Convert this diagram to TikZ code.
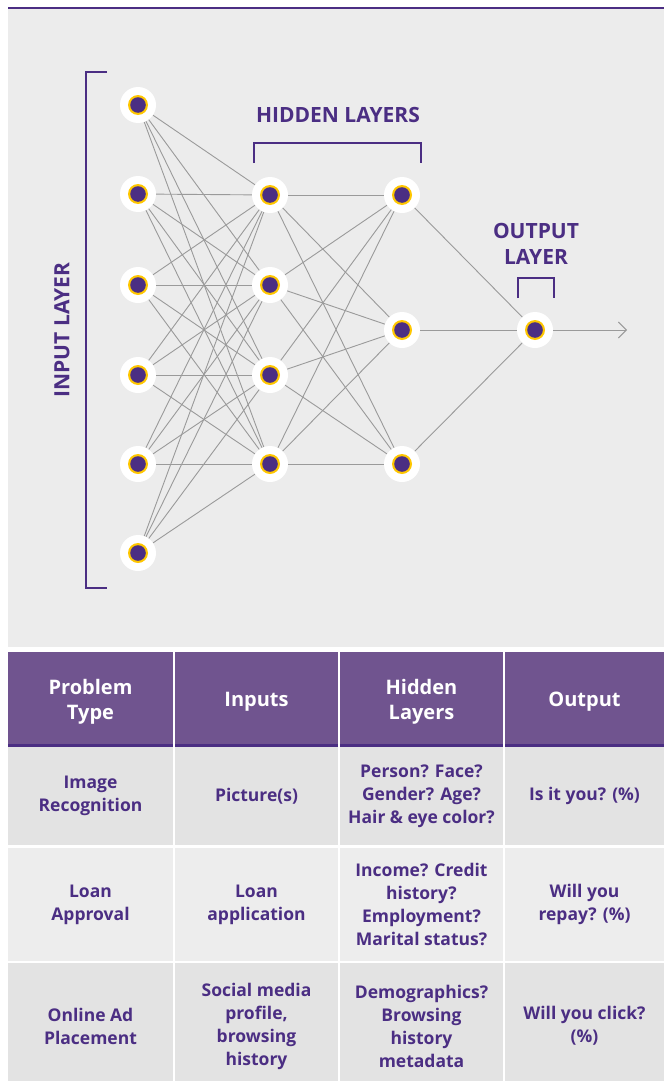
\documentclass[tikz,border=0pt]{standalone}
\usepackage{fontspec}
\setmainfont{Open Sans}
\usetikzlibrary{arrows,arrows.meta}
\definecolor{uwpurple}{HTML}{4B2E83}
\definecolor{headpurple}{HTML}{70548F}
\definecolor{uwgold}{HTML}{FFC700}
\definecolor{panelgray}{HTML}{ECECEC}
\definecolor{rowdark}{HTML}{E3E3E3}
\definecolor{rowlight}{HTML}{EDEDED}
\definecolor{wiregray}{HTML}{9A9A9A}

\begin{document}
\begin{tikzpicture}[x=1pt,y=-1pt,>={Straight Barb[length=8pt,width=16pt]},
  neuron/.style={circle,fill=white,minimum size=36pt,inner sep=0pt,
    path picture={\fill[uwgold] (path picture bounding box.center) circle (10pt);
      \fill[uwpurple] (path picture bounding box.center) circle (7.8pt);}},
  wire/.style={draw=wiregray,line width=0.9pt},
  bracket/.style={draw=uwpurple,line width=1.5pt},
  layerlabel/.style={text=uwpurple,font=\fontsize{21}{26}\selectfont\bfseries,align=center,inner sep=0pt},
  cell/.style={inner sep=0pt,outer sep=0pt,align=center,text=uwpurple,
    font=\fontsize{17.5}{23}\selectfont\bfseries},
  headcell/.style={cell,fill=headpurple,text=white,font=\fontsize{20}{25}\selectfont\bfseries},
  w1/.style={minimum width=165pt},
  w2/.style={minimum width=163pt},
  w3/.style={minimum width=163pt},
  w4/.style={minimum width=159pt}]
\useasboundingbox (0,0) rectangle (664,1081);

% background panel and top rule
\fill[panelgray] (8,9) rectangle (664,647);
\fill[uwpurple] (8,7.3) rectangle (664,9.3);

% define the neurons
  \node[neuron] (i1) at (138,105) {};
  \node[neuron] (i2) at (138,194) {};
  \node[neuron] (i3) at (138,285) {};
  \node[neuron] (i4) at (138,375) {};
  \node[neuron] (i5) at (138,464) {};
  \node[neuron] (i6) at (138,553) {};

  \node[neuron] (h1) at (270,195) {};
  \node[neuron] (h2) at (270,285) {};
  \node[neuron] (h3) at (270,375) {};
  \node[neuron] (h4) at (270,464) {};

  \node[neuron] (g1) at (402,195) {};
  \node[neuron] (g2) at (402,330) {};
  \node[neuron] (g3) at (402,464) {};

  \node[neuron] (o1) at (535,330) {};
  \coordinate (out) at (627,330);

% define the links
  \foreach \a in {1,...,6}
    \foreach \b in {1,...,4}
      \path[wire] (i\a) -- (h\b);
  \foreach \a in {1,...,4}
    \foreach \b in {1,...,3}
      \path[wire] (h\a) -- (g\b);
  \foreach \a in {1,...,3}
    \path[wire] (g\a) -- (o1);
  \path[wire,->] (o1) -- (out);

% layer brackets and labels
  \draw[bracket] (107,72) -- (86,72) -- (86,588) -- (107,588);
  \draw[bracket] (254,163) -- (254,143) -- (421,143) -- (421,163);
  \draw[bracket] (518,298) -- (518,278) -- (554,278) -- (554,298);
  \node[layerlabel,rotate=90] (inlabel) at (62,330) {INPUT LAYER};
  \node[layerlabel] (hidlabel) at (338,115) {HIDDEN LAYERS};
  \node[layerlabel] (outlabel) at (536,244) {OUTPUT\\LAYER};

% table header
  \node[headcell,w1,minimum height=99pt] (th1) at (90.5,701.5) {Problem\\Type};
  \node[headcell,w2,minimum height=99pt] (th2) at (256.5,701.5) {Inputs};
  \node[headcell,w3,minimum height=99pt] (th3) at (421.5,701.5) {Hidden\\Layers};
  \node[headcell,w4,minimum height=99pt] (th4) at (584.5,701.5) {Output};
  \foreach \c in {th1,th2,th3,th4}
    \fill[uwpurple] ([yshift=7pt]\c.south west) rectangle ([yshift=4pt]\c.south east);

% table rows
  \node[cell,w1,fill=rowdark,minimum height=98pt] (r1c1) at (90.5,796) {Image\\Recognition};
  \node[cell,w2,fill=rowdark,minimum height=98pt] (r1c2) at (256.5,796) {Picture(s)};
  \node[cell,w3,fill=rowdark,minimum height=98pt] (r1c3) at (421.5,796) {Person? Face?\\Gender? Age?\\Hair \& eye color?};
  \node[cell,w4,fill=rowdark,minimum height=98pt] (r1c4) at (584.5,796) {Is it you? (\%)};

  \node[cell,w1,fill=rowlight,minimum height=113pt] (r2c1) at (90.5,904.5) {Loan\\Approval};
  \node[cell,w2,fill=rowlight,minimum height=113pt] (r2c2) at (256.5,904.5) {Loan\\application};
  \node[cell,w3,fill=rowlight,minimum height=113pt] (r2c3) at (421.5,904.5) {Income? Credit\\history?\\Employment?\\Marital status?};
  \node[cell,w4,fill=rowlight,minimum height=113pt] (r2c4) at (584.5,904.5) {Will you\\repay? (\%)};

  \node[cell,w1,fill=rowdark,minimum height=126pt] (r3c1) at (90.5,1026) {Online Ad\\Placement};
  \node[cell,w2,fill=rowdark,minimum height=126pt] (r3c2) at (256.5,1026) {Social media\\profile,\\browsing\\history};
  \node[cell,w3,fill=rowdark,minimum height=126pt] (r3c3) at (421.5,1026) {Demographics?\\Browsing\\history\\metadata};
  \node[cell,w4,fill=rowdark,minimum height=126pt] (r3c4) at (584.5,1026) {Will you click?\\(\%)};
\end{tikzpicture}
\end{document}
